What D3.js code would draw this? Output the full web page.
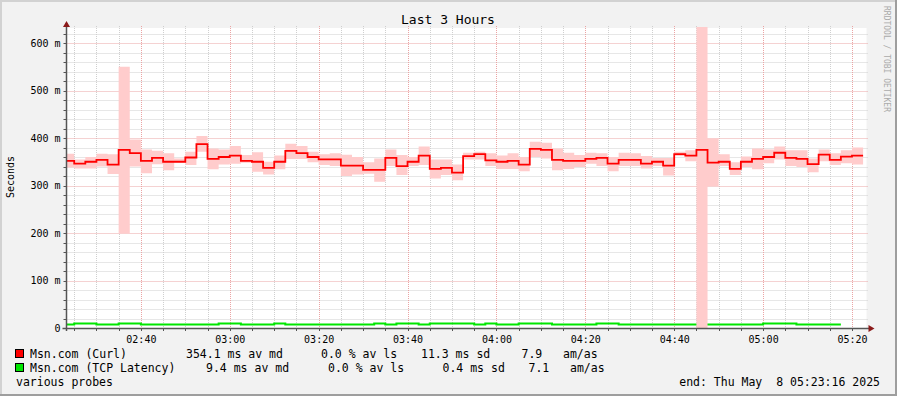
<!DOCTYPE html>
<html>
<head>
<meta charset="utf-8">
<script src="https://cdn.jsdelivr.net/npm/d3@7"></script>
<style>
  html, body { margin: 0; padding: 0; background: #f2f2f2; }
  svg { display: block; }
  text { font-family: 'DejaVu Sans Mono', monospace; }
</style>
</head>
<body>
<div id="container"></div>
<script>
// ---- data ----
const chartTitle = 'Last 3 Hours';
const yTitle = 'Seconds';
const plotStartTime = '2025-05-08 02:23:16';
const plotEndTime = '2025-05-08 05:23:16';
const firstStepTime = '2025-05-08 02:22:30';
const stepSeconds = 150;

// Msn.com (Curl) - median and smoke range, ms
const curlMedian = [352,346,350,354,344,375,368,352,358,350,350,359,387,356,360,363,352,350,337,350,
  373,368,360,355,355,342,342,333,333,358,341,350,363,335,337,327,362,366,353,350,
  352,344,377,375,354,352,352,356,358,346,354,354,346,350,342,366,363,375,348,350,
  335,350,356,360,369,358,356,345,365,354,361,363];
const curlLow = [338,336,336,340,324,199,340,326,345,332,349,343,371,334,344,346,348,329,323,334,
  356,356,349,343,341,320,323,325,308,341,322,341,343,315,322,311,355,355,341,335,
  335,330,360,357,332,335,339,346,341,330,341,341,336,341,321,362,351,0,299,341,
  322,339,334,347,355,341,339,328,351,343,347,344];
const curlHigh = [367,355,360,367,366,550,397,376,373,368,357,371,404,378,376,383,364,370,350,363,
  388,383,371,366,368,365,360,349,357,376,364,360,382,355,355,344,369,371,368,363,
  368,360,392,390,378,369,364,369,368,360,369,368,362,358,358,371,374,640,399,366,
  349,361,378,376,382,374,374,357,376,368,374,380];
// Msn.com (TCP Latency) - median, ms
const tcpMedian = [8,10.5,10.5,8,8,9.5,9.5,8,8,8,8,8,8,8,10.5,10.5,8.8,8.8,8.8,10.5,
  8,8,8,8,8,8,8,8,10.5,8,9.5,9.5,8,10.5,10.5,10.5,10.5,8,10.5,8.8,
  8.8,10.5,10.5,10.5,8.8,8.8,8.8,8.8,10.5,10.5,8.8,8.8,8.8,8.8,8.8,8.8,8.8,8.8,8.8,8.8,
  8.8,8.8,8.8,10.5,10.5,10.5,8.8,8.8,8.8,8.8];

const yMajorTicks = [0, 100, 200, 300, 400, 500, 600];
const yMinorTicks = d3.range(0, 640, 20);

const legendCurl = ['Msn.com (Curl)', '354.1 ms av md', '0.0 % av ls', '11.3 ms sd', '7.9', 'am/as'];
const legendTcp = ['Msn.com (TCP Latency)', '9.4 ms av md', '0.0 % av ls', '0.4 ms sd', '7.1', 'am/as'];
const footLeft = 'various probes';
const footRight = 'end: Thu May  8 05:23:16 2025';
const sideNote = 'RRDTOOL / TOBI OETIKER';

// ---- layout ----
const W = 897, H = 396;
const plot = { left: 66.5, right: 866.5, top: 28, bottom: 328 };
const colors = {
  bg: '#f2f2f2', canvas: '#ffffff', minor: '#cfcfcf', major: '#eba4a4',
  axis: '#555555', arrow: '#8b1a1a', curl: '#ff0000', smoke: '#ffcccc', tcp: '#00e600'
};

const parse = d3.timeParse('%Y-%m-%d %H:%M:%S');
const t0 = parse(plotStartTime), t1 = parse(plotEndTime), tFirst = parse(firstStepTime);
const stepTime = i => new Date(tFirst.getTime() + i * stepSeconds * 1000);

const x = d3.scaleTime().domain([t0, t1]).range([plot.left, plot.right]);
const y = d3.scaleLinear().domain([0, 631.58]).range([plot.bottom, plot.top]);
const px = v => Math.round(v) + 0.5;

const svg = d3.select('#container').append('svg')
  .attr('width', W).attr('height', H);

svg.append('rect').attr('width', W).attr('height', H).attr('fill', colors.bg);
// 3d border
svg.append('path').attr('d', `M1,${H} L1,1 L${W},1`).attr('fill', 'none')
  .attr('stroke', '#d2d2d2').attr('stroke-width', 2);
svg.append('path').attr('d', `M0,${H - 1} L${W - 1},${H - 1} L${W - 1},0`).attr('fill', 'none')
  .attr('stroke', '#9e9e9e').attr('stroke-width', 2);

svg.append('rect')
  .attr('x', plot.left).attr('y', plot.top)
  .attr('width', plot.right - plot.left).attr('height', plot.bottom - plot.top)
  .attr('fill', colors.canvas);

svg.append('defs').append('clipPath').attr('id', 'clip')
  .append('rect').attr('x', plot.left).attr('y', plot.top - 1)
  .attr('width', plot.right - plot.left).attr('height', plot.bottom - plot.top + 1);

// ---- grid ----
const minorTimes = x.ticks(d3.timeMinute.every(5));
const majorTimes = x.ticks(d3.timeMinute.every(20));
const isMajorT = t => t.getMinutes() % 20 === 0;

const grid = svg.append('g');
grid.selectAll('line.hmin').data(yMinorTicks.filter(v => v % 100 !== 0)).join('line')
  .attr('x1', plot.left - 2).attr('x2', plot.right + 2)
  .attr('y1', d => px(y(d))).attr('y2', d => px(y(d)))
  .attr('stroke', colors.minor).attr('stroke-dasharray', '1,1');
grid.selectAll('line.vmin').data(minorTimes.filter(t => !isMajorT(t))).join('line')
  .attr('y1', plot.top - 2).attr('y2', plot.bottom + 2)
  .attr('x1', d => px(x(d))).attr('x2', d => px(x(d)))
  .attr('stroke', colors.minor).attr('stroke-dasharray', '1,1');
grid.selectAll('line.hmaj').data(yMajorTicks.filter(v => v > 0)).join('line')
  .attr('x1', plot.left - 2).attr('x2', plot.right + 2)
  .attr('y1', d => px(y(d))).attr('y2', d => px(y(d)))
  .attr('stroke', colors.major).attr('stroke-dasharray', '1,1');
grid.selectAll('line.vmaj').data(majorTimes).join('line')
  .attr('y1', plot.top - 2).attr('y2', plot.bottom + 2)
  .attr('x1', d => px(x(d))).attr('x2', d => px(x(d)))
  .attr('stroke', colors.major).attr('stroke-dasharray', '1,1');

// ---- data ----
const toSteps = arr => {
  const pts = arr.map((v, i) => ({ t: stepTime(i), v: v, i: i }));
  pts.push({ t: stepTime(arr.length), v: arr[arr.length - 1], i: arr.length - 1 });
  return pts;
};

const data = svg.append('g').attr('clip-path', 'url(#clip)');

const tcpLine = d3.line().curve(d3.curveStepAfter).x(d => x(d.t)).y(d => Math.round(y(d.v)) + 0.5);
data.append('path').datum(toSteps(tcpMedian))
  .attr('d', tcpLine).attr('fill', 'none')
  .attr('stroke', colors.tcp).attr('stroke-width', 2);

const smokeArea = d3.area().curve(d3.curveStepAfter)
  .x(d => x(d.t))
  .y0(d => y(curlLow[d.i]))
  .y1(d => y(curlHigh[d.i]));
data.append('path').datum(toSteps(curlMedian))
  .attr('d', smokeArea).attr('fill', colors.smoke);

const curlLine = d3.line().curve(d3.curveStepAfter).x(d => x(d.t)).y(d => y(d.v));
data.append('path').datum(toSteps(curlMedian))
  .attr('d', curlLine).attr('fill', 'none')
  .attr('stroke', colors.curl).attr('stroke-width', 1.8);

// ---- axes ----
const yAxis = d3.axisLeft(y).tickValues(yMajorTicks)
  .tickSize(0).tickPadding(6)
  .tickFormat(d => d === 0 ? '0' : d + ' m');
const gy = svg.append('g').attr('transform', `translate(${plot.left},0)`).call(yAxis);
gy.select('.domain').remove();
gy.selectAll('text').attr('font-size', 10).attr('fill', '#000')
  .attr('font-family', "'DejaVu Sans Mono', monospace");

const xAxis = d3.axisBottom(x).tickValues(majorTimes)
  .tickSize(0).tickPadding(8)
  .tickFormat(d3.timeFormat('%H:%M'));
const gx = svg.append('g').attr('transform', `translate(0,${plot.bottom})`).call(xAxis);
gx.select('.domain').remove();
gx.selectAll('text').attr('font-size', 10).attr('fill', '#000')
  .attr('font-family', "'DejaVu Sans Mono', monospace");

// small tick marks under the x axis
svg.append('g').selectAll('line').data(minorTimes).join('line')
  .attr('x1', d => px(x(d))).attr('x2', d => px(x(d)))
  .attr('y1', plot.bottom + 1).attr('y2', plot.bottom + 3)
  .attr('stroke', colors.axis);
svg.append('g').selectAll('line').data(yMinorTicks).join('line')
  .attr('x1', plot.left - 3).attr('x2', plot.left)
  .attr('y1', d => px(y(d))).attr('y2', d => px(y(d)))
  .attr('stroke', colors.axis);

svg.append('line')
  .attr('x1', plot.left).attr('x2', plot.left)
  .attr('y1', plot.top - 5).attr('y2', plot.bottom + 3)
  .attr('stroke', colors.axis).attr('stroke-width', 1.5);
svg.append('line')
  .attr('x1', plot.left - 4).attr('x2', plot.right + 4)
  .attr('y1', plot.bottom + 0.5).attr('y2', plot.bottom + 0.5)
  .attr('stroke', colors.axis).attr('stroke-width', 1.5);

svg.append('path')
  .attr('d', `M${plot.left - 3.5},${plot.top - 1} L${plot.left + 3.5},${plot.top - 1} L${plot.left},${plot.top - 7} Z`)
  .attr('fill', colors.arrow);
svg.append('path')
  .attr('d', `M${plot.right + 2},${plot.bottom - 3} L${plot.right + 2},${plot.bottom + 4} L${plot.right + 8},${plot.bottom + 0.5} Z`)
  .attr('fill', colors.arrow);

// ---- titles ----
svg.append('text').attr('x', 448).attr('y', 24)
  .attr('text-anchor', 'middle').attr('font-size', 13).text(chartTitle);
svg.append('text').attr('transform', 'translate(14,177) rotate(-90)')
  .attr('text-anchor', 'middle').attr('font-size', 10).text(yTitle);
svg.append('text').attr('transform', 'translate(884,6) rotate(90)')
  .attr('font-size', 8).attr('fill', '#aaaaaa').text(sideNote);

// ---- legend ----
const legendRows = [
  { items: legendCurl, color: colors.curl, y: 358, xs: [30, 186, 321, 421, 521.5, 563] },
  { items: legendTcp, color: colors.tcp, y: 372, xs: [30, 206, 328, 442.5, 528.5, 570] }
];
legendRows.forEach(row => {
  svg.append('rect').attr('x', 15.5).attr('y', row.y - 8.5)
    .attr('width', 8).attr('height', 8)
    .attr('fill', row.color).attr('stroke', '#000').attr('stroke-width', 1);
  row.items.forEach((s, i) => {
    svg.append('text').attr('x', row.xs[i]).attr('y', row.y)
      .attr('font-size', 11.5).attr('xml:space', 'preserve').style('white-space', 'pre').text(s);
  });
});
svg.append('text').attr('x', 16).attr('y', 386).attr('font-size', 11.5).text(footLeft);
svg.append('text').attr('x', 880).attr('y', 386).attr('text-anchor', 'end')
  .attr('font-size', 11.5).style('white-space', 'pre').text(footRight);
</script>
</body>
</html>
